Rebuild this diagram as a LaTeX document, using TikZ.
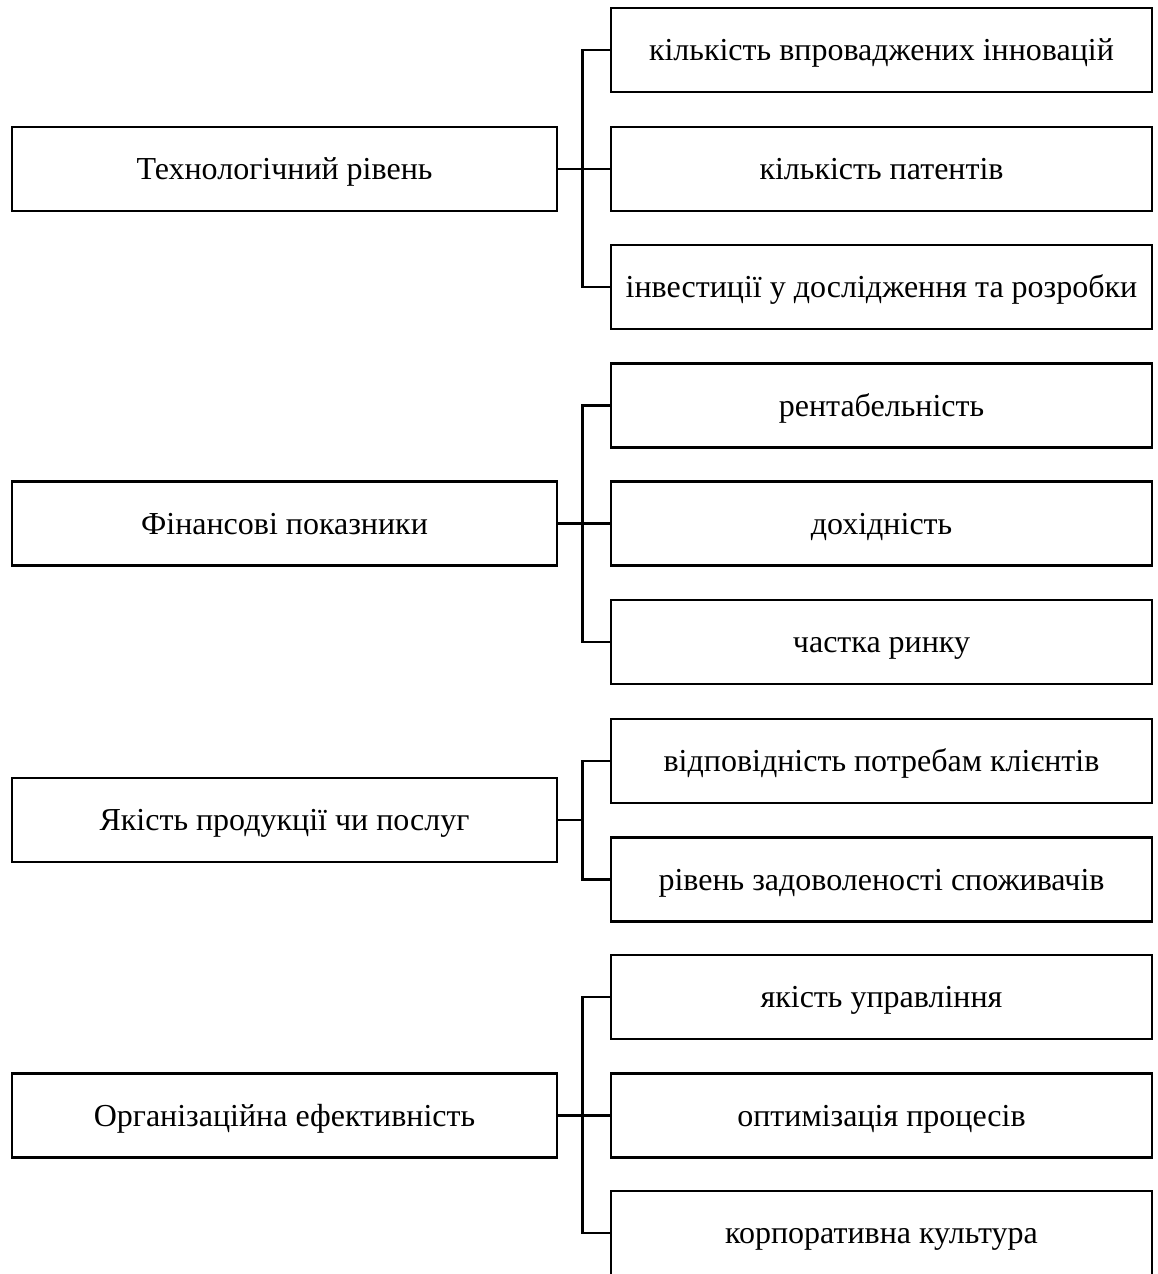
\documentclass[tikz,border=0pt]{standalone}
\usepackage{fontspec}
\setmainfont{Liberation Serif}
\begin{document}
\begin{tikzpicture}[x=1pt,y=-1pt,
  boxtext/.style={font=\fontsize{32}{38}\selectfont, text height=28pt, text depth=7pt},
  lbox/.style={draw, line width=2.8pt, minimum width=545pt, minimum height=84pt, inner sep=0pt, boxtext},
  rbox/.style={draw, line width=2.8pt, minimum width=541pt, minimum height=84pt, inner sep=0pt, boxtext},
  conn/.style={line width=2.8pt}]
\clip (0,0) rectangle (1157,1274);
% group 1
\node[lbox] (l1) at (284.5,169) {Технологічний рівень};
\node[rbox] (r11) at (881.5,50) {кількість впроваджених інновацій};
\node[rbox] (r12) at (881.5,169) {кількість патентів};
\node[rbox] (r13) at (881.5,287) {інвестиції у дослідження та розробки};
\draw[conn] (r11.west) -- ++(-27,0) |- (r13.west);
\draw[conn] (l1.east) -- (r12.west);
% group 2
\node[lbox] (l2) at (284.5,523.5) {Фінансові показники};
\node[rbox] (r21) at (881.5,405.5) {рентабельність};
\node[rbox] (r22) at (881.5,523.5) {дохідність};
\node[rbox] (r23) at (881.5,642) {частка ринку};
\draw[conn] (r21.west) -- ++(-27,0) |- (r23.west);
\draw[conn] (l2.east) -- (r22.west);
% group 3
\node[lbox] (l3) at (284.5,820) {Якість продукції чи послуг};
\node[rbox] (r31) at (881.5,761) {відповідність потребам клієнтів};
\node[rbox] (r32) at (881.5,879.5) {рівень задоволеності споживачів};
\coordinate (j3) at (584,820);
\draw[conn] (r31.west) -- ++(-27,0) |- (r32.west);
\draw[conn] (l3.east) -- (j3);
% group 4
\node[lbox] (l4) at (284.5,1115.5) {Організаційна ефективність};
\node[rbox] (r41) at (881.5,997) {якість управління};
\node[rbox] (r42) at (881.5,1115.5) {оптимізація процесів};
\node[rbox] (r43) at (881.5,1233) {корпоративна культура};
\draw[conn] (r41.west) -- ++(-27,0) |- (r43.west);
\draw[conn] (l4.east) -- (r42.west);
\end{tikzpicture}
\end{document}
